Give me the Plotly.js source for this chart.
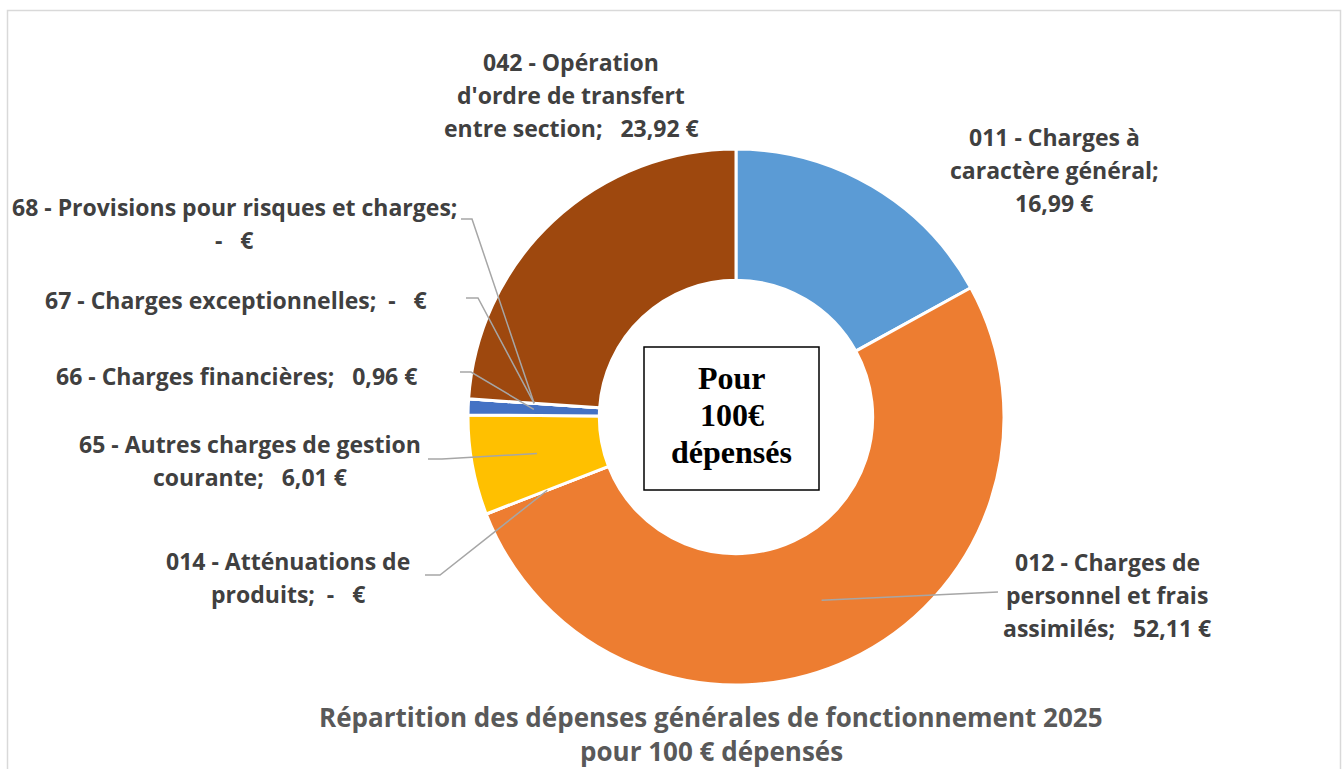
<!DOCTYPE html>
<html>
<head>
<meta charset="utf-8">
<script src="https://cdn.plot.ly/plotly-3.0.1.min.js"></script>
<style>
html,body{margin:0;padding:0;background:#fff;}
#chart{width:1342px;height:769px;}
</style>
</head>
<body>
<div id="chart"></div>
<script>
// ---- data ----
var categories = [
  "011 - Charges à caractère général",
  "012 - Charges de personnel et frais assimilés",
  "014 - Atténuations de produits",
  "65 - Autres charges de gestion courante",
  "66 - Charges financières",
  "67 - Charges exceptionnelles",
  "68 - Provisions pour risques et charges",
  "042 - Opération d'ordre de transfert entre section"
];
var values = [16.99, 52.11, 0, 6.01, 0.96, 0, 0, 23.92];
// label text as wrapped in the chart ({v} = value)
var labelTemplates = [
  ["011 - Charges à", "caractère général;", "{v}"],
  ["012 - Charges de", "personnel et frais", "assimilés;\u00a0\u00a0\u00a0{v}"],
  ["014 - Atténuations de", "produits;\u00a0\u00a0{v}"],
  ["65 - Autres charges de gestion", "courante;\u00a0\u00a0\u00a0{v}"],
  ["66 - Charges financières;\u00a0\u00a0\u00a0{v}"],
  ["67 - Charges exceptionnelles;\u00a0\u00a0{v}"],
  ["68 - Provisions pour risques et charges;", "{v}"],
  ["042 - Opération", "d'ordre de transfert", "entre section;\u00a0\u00a0\u00a0{v}"]
];
var colors = ["#5B9BD5", "#ED7D31", "#A5A5A5", "#FFC000", "#4472C4", "#70AD47", "#255E91", "#9E480E"];
var titleLines = ["Répartition des dépenses générales de fonctionnement 2025", "pour 100 € dépensés"];
var centerText = ["Pour", "100€", "dépensés"];

// ---- layout constants (pixels) ----
var W = 1342, H = 769;
var CX = 736, CY = 417, R = 268, HOLE = 0.51;
var LINE_H = 33;
// label positions: center x, first line center y
var labelPos = [
  [1054, 137], [1107, 562], [288, 561], [250, 444],
  [236, 376], [236, 300], [234, 207], [571, 62]
];
// leader line start (label side) [x0,y0,x1,y1] or null
var leaderStart = [
  null, [998, 592, 998, 592], [425, 575, 440, 575], [428, 459, 442, 459],
  [460, 372, 471, 372], [466, 298, 478, 298], [461, 219, 472, 219], null
];

function fmt(v) {
  if (v === 0) return "-\u00a0\u00a0\u00a0€";
  return v.toFixed(2).replace(".", ",") + " €";
}
function px(x) { return x / W; }
function py(y) { return 1 - y / H; }

var total = values.reduce(function (a, b) { return a + b; }, 0);

var trace = {
  type: "pie",
  labels: categories,
  values: values,
  sort: false,
  direction: "clockwise",
  rotation: 0,
  hole: HOLE,
  textinfo: "none",
  hoverinfo: "label+value",
  showlegend: false,
  marker: { colors: colors, line: { color: "#ffffff", width: 3 } },
  domain: { x: [px(CX - R), px(CX + R)], y: [py(CY + R), py(CY - R)] }
};

var annotations = [];
var shapes = [];
var labelFont = { family: "Open Sans, sans-serif", size: 23, color: "#404040", weight: 700 };

var cum = 0;
values.forEach(function (v, i) {
  var mid = (cum + v / 2) / total;
  cum += v;
  var ang = mid * 2 * Math.PI;
  var rm = (R + R * HOLE) / 2;
  var ax = CX + rm * Math.sin(ang);
  var ay = CY - rm * Math.cos(ang);
  var lines = labelTemplates[i];
  lines.forEach(function (t, k) {
    annotations.push({
      xref: "paper", yref: "paper",
      x: px(labelPos[i][0]), y: py(labelPos[i][1] + k * LINE_H),
      xanchor: "center", yanchor: "middle",
      text: t.replace("{v}", fmt(v)),
      showarrow: false, font: labelFont
    });
  });
  var ls = leaderStart[i];
  if (ls) {
    shapes.push({
      type: "path", xref: "paper", yref: "paper",
      path: "M" + px(ls[0]) + "," + py(ls[1]) + " L" + px(ls[2]) + "," + py(ls[3]) + " L" + px(ax) + "," + py(ay),
      line: { color: "#A6A6A6", width: 1.5 }
    });
  }
});

// center box
shapes.push({
  type: "rect", xref: "paper", yref: "paper",
  x0: px(644), x1: px(819), y0: py(490), y1: py(347),
  line: { color: "#000000", width: 1.5 }, fillcolor: "rgba(0,0,0,0)"
});
centerText.forEach(function (t, k) {
  annotations.push({
    xref: "paper", yref: "paper", x: px(731.5), y: py(378 + k * 37),
    xanchor: "center", yanchor: "middle", text: t, showarrow: false,
    font: { family: "Liberation Serif, Times New Roman, serif", size: 32, color: "#000000", weight: 700 }
  });
});

// outer frame
shapes.push({
  type: "rect", xref: "paper", yref: "paper",
  x0: px(7.5), x1: px(1340.5), y0: py(800), y1: py(10.5),
  line: { color: "#D9D9D9", width: 1.5 }, fillcolor: "rgba(0,0,0,0)", layer: "below"
});

titleLines.forEach(function (t, k) {
  annotations.push({
    xref: "paper", yref: "paper", x: px(711), y: py(717 + k * 34),
    xanchor: "center", yanchor: "middle", text: t, showarrow: false,
    font: { family: "Open Sans, sans-serif", size: 26, color: "#595959", weight: 700 }
  });
});

var layout = {
  width: W, height: H,
  margin: { l: 0, r: 0, t: 0, b: 0 },
  paper_bgcolor: "#ffffff",
  showlegend: false,
  annotations: annotations,
  shapes: shapes
};

Plotly.newPlot("chart", [trace], layout, { displayModeBar: false, staticPlot: true });
</script>
</body>
</html>
